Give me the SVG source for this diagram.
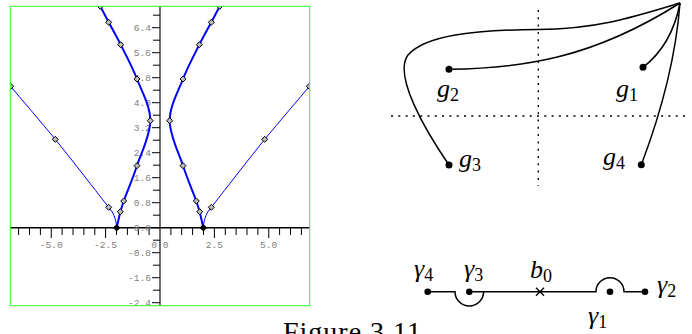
<svg xmlns="http://www.w3.org/2000/svg" width="692" height="334" viewBox="0 0 692 334">
<style>
.tl{font-family:"Liberation Mono",monospace;font-size:9.6px;fill:#808080}
.yl{text-anchor:end}
.xl{text-anchor:middle}
.tick{stroke:#000;stroke-width:1}
.inner{fill:none;stroke:#0000ff;stroke-width:2}
.outer{fill:none;stroke:#0000ff;stroke-width:1}
.dot{fill:#000}
.curve{fill:none;stroke:#000;stroke-width:1.5}
.dotted{fill:none;stroke:#000;stroke-width:1.4;stroke-dasharray:2 5.3}
.m{font-family:"Liberation Serif",serif;font-style:italic;font-size:26px;fill:#000}
.sub{font-style:normal;font-size:18px}
.cap{font-family:"Liberation Serif",serif;font-size:28px;fill:#000}
</style>
<defs>
<clipPath id="plotclip"><rect x="10.3" y="6.3" width="299.4" height="299.4"/></clipPath>
<path id="dm" d="M0,-3 L3,0 L0,3 L-3,0 Z" fill="#bbb" stroke="#000" stroke-width="1"/>
<path id="dmf" d="M0,-3.2 L3.2,0 L0,3.2 L-3.2,0 Z" fill="#000" stroke="#000" stroke-width="1"/>
</defs>

<!-- Plot -->
<g id="plot">
<g clip-path="url(#plotclip)">
<!-- y axis -->
<line x1="160" y1="0" x2="160" y2="334" stroke="#707070" stroke-width="2"/>
<!-- x axis -->
<line x1="0" y1="227.7" x2="320" y2="227.7" stroke="#000" stroke-width="1.6"/>
<g class="tick">
<path d="M18.6,227.7V235 M29.5,227.7V235 M40.4,227.7V235 M51.25,227.7V238 M62.1,227.7V235 M73,227.7V235 M83.9,227.7V235 M94.8,227.7V235 M105.6,227.7V238 M116.5,227.7V235 M127.4,227.7V235 M138.3,227.7V235 M149.1,227.7V235 M170.9,227.7V235 M181.7,227.7V235 M192.6,227.7V235 M203.5,227.7V235 M214.4,227.7V238 M225.3,227.7V235 M236.1,227.7V235 M247,227.7V235 M257.9,227.7V235 M268.75,227.7V238 M279.6,227.7V235 M290.5,227.7V235 M301.4,227.7V235"/>
<path d="M152,302.7H160 M153,290.2H160 M152,277.7H160 M153,265.2H160 M152,252.7H160 M153,240.2H160 M152,227.7H160 M153,215.2H160 M152,202.7H160 M153,190.2H160 M152,177.7H160 M153,165.2H160 M152,152.7H160 M153,140.2H160 M152,127.7H160 M153,115.2H160 M152,102.7H160 M153,90.2H160 M152,77.7H160 M153,65.2H160 M152,52.7H160 M153,40.2H160 M152,27.7H160 M153,15.2H160"/>
</g>
<g class="tl yl">
<text x="151" y="30.7">6.4</text>
<text x="151" y="55.7">5.6</text>
<text x="151" y="80.7">4.8</text>
<text x="151" y="105.7">4.0</text>
<text x="151" y="130.7">3.2</text>
<text x="151" y="155.7">2.4</text>
<text x="151" y="180.7">1.6</text>
<text x="151" y="205.7">0.8</text>
<text x="151" y="230.7">0.0</text>
<text x="151" y="255.7">-0.8</text>
<text x="151" y="280.7">-1.6</text>
<text x="151" y="305.7">-2.4</text>
</g>
<g class="tl xl">
<text x="51.25" y="248">-5.0</text>
<text x="105.6" y="248">-2.5</text>
<text x="160" y="248">0.0</text>
<text x="214.4" y="248">2.5</text>
<text x="268.75" y="248">5.0</text>
</g>
<!-- curves -->
<path class="inner" d="M203.3,227.7 L199.7,211.7 L196.3,201 C193.52,193.33 187.43,179.08 183,165.7 C178.57,152.32 169.7,135.15 169.7,120.7 C169.7,106.25 178.07,91.67 183,79 C187.93,66.33 194.58,54.15 199.3,44.7 C204.02,35.25 207.9,28.7 211.3,22.3 C214.7,15.9 217.58,10.35 219.7,6.3 L224,-2"/>
<path class="inner" d="M116.7,227.7 L120.3,211.7 L123.7,201 C126.48,193.33 132.57,179.08 137,165.7 C141.43,152.32 150.3,135.15 150.3,120.7 C150.3,106.25 141.93,91.67 137,79 C132.07,66.33 125.42,54.15 120.7,44.7 C115.98,35.25 112.1,28.7 108.7,22.3 C105.3,15.9 102.42,10.35 100.3,6.3 L96,-2"/>
<path class="outer" d="M203.3,227.7 C204,218 207,212 211.3,207.3 C228,186 248,160 264.7,139.3 C280,121 296,102 314,81"/>
<path class="outer" d="M116.7,227.7 C116,218 113,212 108.7,207.3 C92,186 72,160 55.3,139.3 C40,121 24,102 6,81"/>
<!-- markers -->
<use href="#dmf" x="203.3" y="227.7"/>
<use href="#dm" x="199.7" y="211.7"/>
<use href="#dm" x="196.3" y="201"/>
<use href="#dm" x="183" y="165.7"/>
<use href="#dm" x="169.7" y="120.7"/>
<use href="#dm" x="183" y="79"/>
<use href="#dm" x="199.3" y="44.7"/>
<use href="#dm" x="211.3" y="22.3"/>
<use href="#dm" x="219.7" y="6.3"/>
<use href="#dm" x="211.3" y="207.3"/>
<use href="#dm" x="264.7" y="139.3"/>
<use href="#dm" x="309.3" y="86.3"/>
<use href="#dmf" x="116.7" y="227.7"/>
<use href="#dm" x="120.3" y="211.7"/>
<use href="#dm" x="123.7" y="201"/>
<use href="#dm" x="137" y="165.7"/>
<use href="#dm" x="150.3" y="120.7"/>
<use href="#dm" x="137" y="79"/>
<use href="#dm" x="120.7" y="44.7"/>
<use href="#dm" x="108.7" y="22.3"/>
<use href="#dm" x="100.3" y="6.3"/>
<use href="#dm" x="108.7" y="207.3"/>
<use href="#dm" x="55.3" y="139.3"/>
<use href="#dm" x="10.7" y="86.3"/>
</g>
<rect x="10.3" y="6.3" width="299.4" height="299.4" fill="none" stroke="#33ff33" stroke-width="1"/>
</g>

<!-- Upper right diagram -->
<g id="axes-dotted">
<line class="dotted" x1="538.3" y1="10" x2="538.3" y2="186"/>
<line class="dotted" x1="391" y1="116" x2="689" y2="116"/>
</g>
<g id="connectors">
<path class="curve" d="M643,67.3 Q672,45 680,3"/>
<path class="curve" d="M680,3 C676,55 664,105 641.3,164.7"/>
<path class="curve" d="M449,69.3 C520,68 590,60 680,3"/>
<path class="curve" d="M680,3 C640,15 600,29 538,29.5 C470,30 425,36 408,55 C393,75 425,130 449,165"/>
</g>
<g id="g1"><circle class="dot" cx="643" cy="67.3" r="3.5"/><text class="m" x="616" y="97">g<tspan class="sub" dy="4">1</tspan></text></g>
<g id="g2"><circle class="dot" cx="449" cy="69.3" r="3.5"/><text class="m" x="437" y="97">g<tspan class="sub" dy="4">2</tspan></text></g>
<g id="g3"><circle class="dot" cx="449" cy="165" r="3.5"/><text class="m" x="459" y="167">g<tspan class="sub" dy="4">3</tspan></text></g>
<g id="g4"><circle class="dot" cx="641.3" cy="164.7" r="3.5"/><text class="m" x="603" y="165">g<tspan class="sub" dy="4">4</tspan></text></g>

<!-- Lower right diagram -->
<g id="path-lines">
<path class="curve" d="M427.7,291.7 H455 A14.3,14.3 0 0 0 483.6,291.7"/>
<path class="curve" d="M469.3,291.7 H596 A14,14 0 0 1 624,291.7 H645"/>
<path d="M536,287.7 L544,295.7 M544,287.7 L536,295.7" stroke="#000" stroke-width="1.3"/>
</g>
<g id="gamma4"><circle class="dot" cx="427.7" cy="291.7" r="3.3"/><text class="m" x="414" y="277">γ<tspan class="sub" dy="4">4</tspan></text></g>
<g id="gamma3"><circle class="dot" cx="469.3" cy="291.7" r="3.3"/><text class="m" x="464" y="277">γ<tspan class="sub" dy="4">3</tspan></text></g>
<g id="b0"><text class="m" x="530" y="278">b<tspan class="sub" dy="4">0</tspan></text></g>
<g id="gamma1"><circle class="dot" cx="610" cy="291.7" r="3.3"/><text class="m" x="588" y="324">γ<tspan class="sub" dy="4">1</tspan></text></g>
<g id="gamma2"><circle class="dot" cx="645" cy="291.7" r="3.3"/><text class="m" x="657" y="293">γ<tspan class="sub" dy="4">2</tspan></text></g>

<text class="cap" x="283" y="341" textLength="138">Figure 3.11</text>
</svg>
